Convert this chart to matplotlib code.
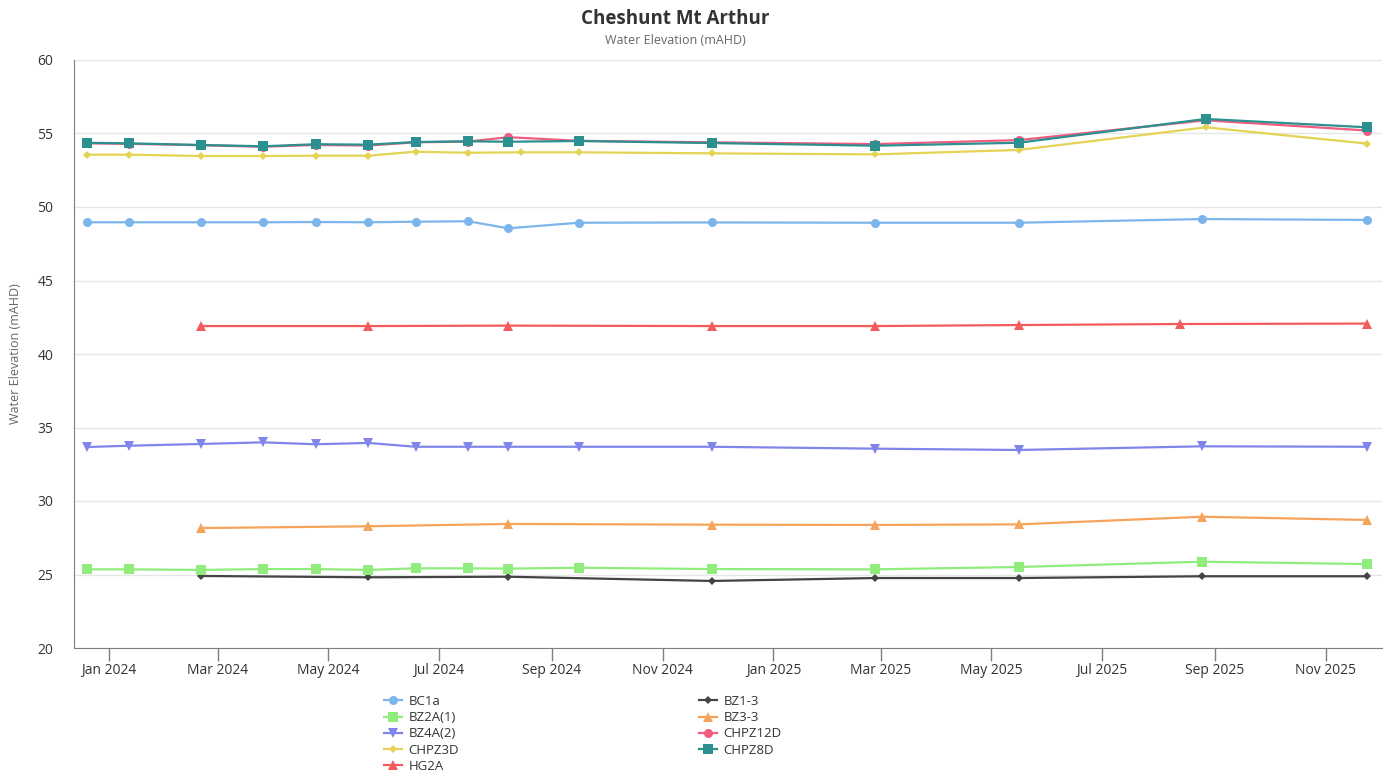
import matplotlib
matplotlib.use("Agg")
import matplotlib.pyplot as plt
import matplotlib.dates as mdates
import pandas as pd
from matplotlib.lines import Line2D

# ---------------- data ----------------
dates_main = ["2023-12-20", "2024-01-12", "2024-02-21", "2024-03-26", "2024-04-24",
              "2024-05-23", "2024-06-18", "2024-07-17", "2024-08-08", "2024-09-16",
              "2024-11-28", "2025-02-26", "2025-05-16", "2025-08-25", "2025-11-24"]
dates_chpz = ["2023-12-20", "2024-01-12", "2024-02-21", "2024-03-26", "2024-04-24",
              "2024-05-23", "2024-06-18", "2024-07-17", "2024-08-08", "2024-09-16",
              "2024-11-28", "2025-02-26", "2025-05-16", "2025-08-27", "2025-11-24"]
dates_chpz3d = ["2023-12-20", "2024-01-12", "2024-02-21", "2024-03-26", "2024-04-24",
                "2024-05-23", "2024-06-18", "2024-07-17", "2024-08-15", "2024-09-16",
                "2024-11-28", "2025-02-26", "2025-05-16", "2025-08-27", "2025-11-24"]
dates_bz = ["2024-02-21", "2024-05-23", "2024-08-08", "2024-11-28",
            "2025-02-26", "2025-05-16", "2025-08-25", "2025-11-24"]
dates_hg2a = ["2024-02-21", "2024-05-23", "2024-08-08", "2024-11-28",
              "2025-02-26", "2025-05-16", "2025-08-13", "2025-11-24"]

bc1a = [48.96, 48.96, 48.96, 48.96, 48.98, 48.96, 49.00, 49.03, 48.55, 48.93,
        48.95, 48.93, 48.93, 49.18, 49.12]
bz1_3 = [24.90, 24.81, 24.85, 24.56, 24.76, 24.76, 24.88, 24.88]
bz2a_1 = [25.35, 25.35, 25.31, 25.37, 25.37, 25.31, 25.42, 25.42, 25.40, 25.46,
          25.37, 25.35, 25.51, 25.87, 25.71]
bz3_3 = [28.16, 28.28, 28.44, 28.39, 28.37, 28.41, 28.93, 28.71]
bz4a_2 = [33.67, 33.76, 33.88, 33.99, 33.86, 33.95, 33.69, 33.69, 33.69, 33.69,
          33.69, 33.56, 33.47, 33.72, 33.69]
chpz12d = [54.33, 54.30, 54.20, 54.10, 54.22, 54.18, 54.40, 54.45, 54.75, 54.50,
           54.40, 54.28, 54.55, 55.90, 55.20]
chpz3d = [53.56, 53.56, 53.47, 53.47, 53.49, 53.49, 53.76, 53.69, 53.72, 53.72,
          53.65, 53.58, 53.88, 55.42, 54.31]
chpz8d = [54.37, 54.33, 54.22, 54.13, 54.27, 54.24, 54.42, 54.47, 54.44, 54.49,
          54.35, 54.17, 54.37, 55.99, 55.42]
hg2a = [41.90, 41.90, 41.93, 41.90, 41.90, 41.97, 42.04, 42.07]

series = [
    ("BC1a", dates_main, bc1a, "#7cb5ec", "o", 6.5),
    ("BZ1-3", dates_bz, bz1_3, "#434348", "D", 4.5),
    ("BZ2A(1)", dates_main, bz2a_1, "#90ed7d", "s", 6.5),
    ("BZ3-3", dates_bz, bz3_3, "#f7a35c", "^", 6.5),
    ("BZ4A(2)", dates_main, bz4a_2, "#8085e9", "v", 6.5),
    ("CHPZ12D", dates_chpz, chpz12d, "#f15c80", "o", 6.5),
    ("CHPZ3D", dates_chpz3d, chpz3d, "#e4d354", "D", 4.5),
    ("CHPZ8D", dates_chpz, chpz8d, "#2b908f", "s", 6.5),
    ("HG2A", dates_hg2a, hg2a, "#f45b5b", "^", 6.5),
]

plt.rcParams['font.family'] = ['Open Sans', 'DejaVu Sans']

W, H = 1391, 771
fig = plt.figure(figsize=(W / 100, H / 100), dpi=100)
ax = fig.add_axes([74 / W, 1 - 648 / H, (1382 - 74) / W, (648 - 60) / H])

LW = 1.6
handles = {}
for name, d, v, col, mk, ms in series:
    ln, = ax.plot(pd.to_datetime(d), v, color=col, marker=mk, markersize=ms,
                  linewidth=LW, markeredgewidth=0, label=name)
    handles[name] = ln

ax.set_ylim(20, 60)
ax.set_yticks([20, 25, 30, 35, 40, 45, 50, 55, 60])
ax.set_xlim(pd.Timestamp("2023-12-13"), pd.Timestamp("2025-12-02"))
ax.xaxis.set_major_locator(mdates.MonthLocator(bymonth=[1, 3, 5, 7, 9, 11]))
ax.xaxis.set_major_formatter(mdates.DateFormatter("%b %Y"))

ax.grid(axis='y', color='#e6e6e6', linewidth=1)
ax.set_axisbelow(True)
for s in ['top', 'right']:
    ax.spines[s].set_visible(False)
ax.spines['left'].set_color('#7f7f7f')
ax.spines['bottom'].set_color('#7f7f7f')
ax.tick_params(axis='y', length=0, pad=15, labelsize=10, labelcolor='#333333')
ax.tick_params(axis='x', length=9, width=1, color='#7f7f7f', pad=2,
               labelsize=10, labelcolor='#333333')

ax.set_ylabel("Water Elevation (mAHD)", fontsize=9, color='#666666', labelpad=11)

fig.text(675 / W, 1 - 19 / H, "Cheshunt Mt Arthur", ha='center', va='center',
         fontsize=13.5, fontweight='bold', color='#333333')
fig.text(675 / W, 1 - 40 / H, "Water Elevation (mAHD)", ha='center', va='center',
         fontsize=9, color='#666666')

def make_handle(name):
    h = handles[name]
    return Line2D([], [], color=h.get_color(), marker=h.get_marker(),
                  markersize=h.get_markersize(), markeredgewidth=0, linewidth=LW)

col1 = ["BC1a", "BZ2A(1)", "BZ4A(2)", "CHPZ3D", "HG2A"]
col2 = ["BZ1-3", "BZ3-3", "CHPZ12D", "CHPZ8D"]
common = dict(frameon=False, loc='upper left', borderpad=0, borderaxespad=0,
              handlelength=1.4, handletextpad=0.45, labelspacing=0.24,
              prop={'size': 9.5}, labelcolor='#333333')
fig.legend([make_handle(n) for n in col1], col1,
           bbox_to_anchor=(384 / W, 1 - 695 / H), **common)
fig.legend([make_handle(n) for n in col2], col2,
           bbox_to_anchor=(699 / W, 1 - 695 / H), **common)

fig.savefig("out.png", dpi=100)
